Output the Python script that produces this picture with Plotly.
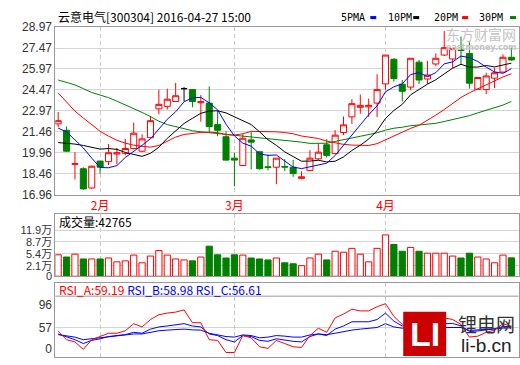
import plotly.graph_objects as go

W, H = 520, 365

# ---------------- data ----------------
idx = list(range(55))
opens = [22.03, 21.57, 19.13, 18.81, 17.43, 19.36, 19.32, 19.87, 19.91, 20.26,
         20.07, 21.04, 23.11, 23.29, 23.64, 24.56, 24.49, 23.55, 23.52, 21.98,
         21.11, 19.57, 19.04, 20.88, 20.03, 18.95, 18.92, 18.97, 18.92, 18.12,
         18.69, 19.52, 20.53, 19.91, 21.41, 22.53, 23.22, 23.25, 23.52, 24.90,
         26.67, 24.88, 24.67, 26.46, 25.25, 26.33, 26.97, 26.69, 27.35, 27.09,
         24.51, 24.49, 25.31, 25.75, 26.81]
highs = [22.88, 21.84, 20.00, 18.92, 19.04, 19.36, 20.58, 20.30, 20.95, 22.12,
         21.29, 22.60, 24.49, 24.56, 24.97, 24.67, 24.49, 24.10, 24.72, 22.99,
         21.50, 19.96, 21.29, 21.45, 20.03, 19.84, 19.57, 19.50, 19.45, 18.63,
         20.14, 20.65, 20.93, 21.57, 22.56, 23.80, 24.14, 23.84, 25.59, 26.97,
         26.74, 25.18, 26.74, 26.62, 26.55, 27.09, 28.69, 27.43, 28.30, 27.89,
         25.36, 25.70, 26.05, 27.02, 27.50]
lows = [21.80, 20.02, 18.05, 17.31, 17.36, 18.46, 19.08, 19.15, 19.77, 20.19,
        20.00, 20.99, 22.72, 23.06, 23.64, 23.64, 23.22, 22.19, 21.38, 21.15,
        19.38, 17.54, 18.99, 18.76, 18.76, 18.69, 17.70, 18.65, 18.23, 18.05,
        18.65, 19.45, 19.61, 19.84, 21.22, 22.03, 22.76, 22.53, 22.53, 24.49,
        25.06, 23.64, 24.44, 24.90, 24.90, 26.17, 26.90, 26.05, 26.33, 24.56,
        24.49, 24.17, 24.60, 25.70, 26.55]
closes = [22.26, 20.07, 19.17, 17.36, 18.99, 18.92, 19.96, 19.96, 20.26, 21.36,
          20.95, 22.26, 23.43, 23.80, 24.05, 24.56, 23.64, 23.62, 21.84, 21.57,
          19.43, 19.43, 21.00, 20.72, 18.81, 18.90, 19.57, 18.93, 18.46, 18.23,
          19.57, 20.00, 19.77, 21.22, 21.96, 23.48, 23.36, 23.36, 24.49, 26.97,
          25.29, 24.37, 26.74, 25.18, 25.54, 26.74, 27.50, 27.43, 27.30, 24.95,
          25.36, 25.47, 25.70, 26.81, 26.62]
volumes = [51350, 45120, 53130, 39780, 39780, 39780, 42450, 31770, 34440, 50460,
           29100, 47790, 63000, 50460, 39780, 37110, 34440, 45120, 75380, 51350,
           42450, 51350, 50460, 42450, 39780, 37110, 42450, 29100, 26430, 21090,
           42450, 53130, 37110, 61140, 58470, 69150, 53130, 31770, 69150, 106530,
           79830, 61140, 71820, 61140, 55800, 55800, 55800, 47790, 42450, 55800,
           45120, 39780, 29100, 50460, 42765]
ma5 = [21.73, 21.45, 20.88, 20.30, 19.57, 18.90, 18.88, 19.04, 19.62, 20.09,
       20.50, 20.96, 21.65, 22.36, 22.90, 23.62, 23.90, 23.93, 23.54, 23.04,
       22.01, 21.17, 20.65, 20.43, 19.88, 19.77, 19.80, 19.39, 18.93, 18.82,
       18.95, 19.04, 19.21, 19.76, 20.50, 21.29, 21.96, 22.68, 23.33, 24.33,
       24.69, 24.90, 25.57, 25.71, 25.42, 25.71, 26.34, 26.48, 26.90, 26.78,
       26.51, 26.10, 25.76, 25.66, 25.99]
ma10 = [20.69, 20.65, 20.58, 20.48, 20.33, 20.22, 20.26, 20.20, 19.98, 19.83,
        19.70, 19.92, 20.35, 20.99, 21.50, 22.06, 22.43, 22.79, 22.95, 22.97,
        22.82, 22.53, 22.29, 21.98, 21.46, 20.89, 20.49, 20.02, 19.68, 19.35,
        19.36, 19.42, 19.30, 19.35, 19.66, 20.12, 20.50, 20.94, 21.54, 22.42,
        22.99, 23.43, 24.12, 24.52, 24.88, 25.20, 25.62, 26.03, 26.31, 26.10,
        26.11, 26.22, 26.12, 26.28, 26.39]
ma20 = [24.25, 23.60, 22.95, 22.45, 21.95, 21.50, 21.15, 20.85, 20.65, 20.50,
        20.42, 20.36, 20.48, 20.80, 21.08, 21.27, 21.37, 21.42, 21.43, 21.40,
        21.26, 21.23, 21.32, 21.49, 21.48, 21.48, 21.46, 21.41, 21.32, 21.16,
        21.09, 20.98, 20.79, 20.66, 20.56, 20.51, 20.49, 20.48, 20.61, 20.88,
        21.18, 21.42, 21.71, 21.93, 22.27, 22.66, 23.06, 23.48, 23.93, 24.26,
        24.55, 24.82, 25.12, 25.40, 25.63]
ma30 = [25.18, 25.02, 24.83, 24.56, 24.28, 24.10, 23.91, 23.66, 23.40, 23.15,
        22.85, 22.55, 22.22, 21.98, 21.82, 21.66, 21.54, 21.46, 21.40, 21.33,
        21.26, 21.20, 21.15, 21.10, 21.05, 20.98, 20.92, 20.86, 20.79, 20.72,
        20.63, 20.62, 20.64, 20.77, 20.87, 21.02, 21.14, 21.25, 21.39, 21.58,
        21.72, 21.79, 21.90, 21.95, 22.00, 22.07, 22.20, 22.33, 22.51, 22.62,
        22.82, 23.02, 23.18, 23.38, 23.64]
rsi_a = [50.3, 35.8, 31.9, 19.0, 35.8, 41.3, 47.0, 47.0, 51.3, 63.7,
         58.0, 70.9, 79.3, 82.1, 83.8, 87.6, 65.4, 65.4, 35.8, 34.6,
         13.5, 13.5, 43.0, 39.1, 23.5, 20.7, 34.6, 29.1, 23.5, 22.4,
         43.0, 55.8, 48.6, 73.7, 80.4, 88.8, 85.9, 85.9, 93.1, 98.5,
         76.4, 62.5, 75.0, 58.0, 62.0, 72.0, 73.7, 70.9, 62.5, 40.3,
         42.0, 48.6, 52.5, 63.7, 59.19]
rsi_b = [45.8, 41.3, 35.8, 29.1, 34.6, 37.4, 41.3, 43.0, 44.6, 48.6,
         47.0, 54.2, 58.0, 59.7, 61.4, 63.7, 59.7, 58.0, 45.8, 43.0,
         35.8, 31.9, 43.0, 41.3, 34.6, 33.0, 37.4, 34.6, 33.0, 31.9,
         41.3, 45.8, 43.0, 54.2, 59.7, 67.0, 67.0, 67.0, 70.9, 82.1,
         68.0, 59.7, 64.0, 56.0, 58.0, 63.0, 63.7, 64.0, 60.0, 50.0,
         51.0, 53.0, 55.0, 58.5, 58.98]
rsi_c = [44.6, 43.0, 40.3, 35.8, 37.4, 39.1, 40.3, 41.3, 43.0, 45.8,
         45.8, 48.6, 51.3, 52.5, 52.9, 54.2, 52.9, 52.5, 47.0, 44.6,
         41.3, 40.3, 44.1, 43.0, 39.1, 40.3, 43.0, 42.0, 40.3, 40.3,
         44.1, 45.8, 44.6, 47.0, 50.3, 52.5, 54.2, 55.3, 57.0, 63.7,
         58.0, 55.8, 58.0, 55.0, 56.0, 58.0, 57.0, 57.5, 57.0, 52.0,
         52.5, 53.5, 54.5, 56.0, 56.61]

price_ticks = [16.96, 18.46, 19.96, 21.46, 22.97, 24.47, 25.97, 27.47, 28.97]
month_pos = [5, 21, 39]
month_labels = ["2月", "3月", "4月"]
VOL_FLOOR = -8280
vol_tickvals = [VOL_FLOOR, 21000, 54000, 87000, 119000]
vol_ticktext = ["0", "2.1万", "5.4万", "8.7万", "11.9万"]
rsi_tickvals = [20.7, 57, 96]
rsi_ticktext = ["0", "57", "96"]

title_text = "云意电气[300304] 2016-04-27 15:00"
vol_title = "成交量:42765"
legend_labels = ["5PMA", "10PM", "20PM", "30PM"]

RED = "#ff0000"
GREEN = "#008000"
BLUE = "#0000ff"
GRID = "#d4d4d4"
BORDER = "#999999"
NUMFONT = "Liberation Sans, Arial, Noto Sans CJK SC"
MONO = "DejaVu Sans Mono, Liberation Mono"
CJK = "Noto Sans CJK SC"


def py(p):
    return (H - p) / H


def px(p):
    return p / W


fig = go.Figure()

# moving averages
for vals, col in [(ma30, GREEN), (ma20, RED), (ma10, "#000000"), (ma5, BLUE)]:
    fig.add_trace(go.Scatter(x=idx, y=vals, mode="lines", line=dict(color=col, width=1),
                             xaxis="x", yaxis="y", hoverinfo="skip"))

up = [i for i in idx if closes[i] > opens[i]]
down = [i for i in idx if closes[i] < opens[i]]
flat = [i for i in idx if closes[i] == opens[i]]


def candle(sel, col_inc, fill_inc, col_dec, fill_dec):
    return go.Candlestick(
        x=[idx[i] for i in sel], open=[opens[i] for i in sel], high=[highs[i] for i in sel],
        low=[lows[i] for i in sel], close=[closes[i] for i in sel],
        increasing=dict(line=dict(color=col_inc, width=1), fillcolor=fill_inc),
        decreasing=dict(line=dict(color=col_dec, width=1), fillcolor=fill_dec),
        whiskerwidth=0, xaxis="x", yaxis="y", hoverinfo="skip")


fig.add_trace(candle(up, RED, "#ffffff", RED, "#ffffff"))
fig.add_trace(candle(down, GREEN, GREEN, GREEN, GREEN))
fig.add_trace(candle(flat, "#000000", "#000000", "#000000", "#000000"))

# volume
vcol_line = [GREEN if closes[i] < opens[i] else RED for i in idx]
vcol_fill = [GREEN if closes[i] < opens[i] else "#ffffff" for i in idx]
fig.add_trace(go.Bar(x=idx, y=[v - VOL_FLOOR for v in volumes], base=VOL_FLOOR, width=0.74,
                     marker=dict(color=vcol_fill, line=dict(color=vcol_line, width=1)),
                     xaxis="x2", yaxis="y2", hoverinfo="skip"))

# RSI
for vals, col in [(rsi_c, BLUE), (rsi_b, BLUE), (rsi_a, RED)]:
    fig.add_trace(go.Scatter(x=idx, y=vals, mode="lines", line=dict(color=col, width=1),
                             xaxis="x3", yaxis="y3", hoverinfo="skip"))

xdom = [px(55.5), px(519.5)]
xcommon = dict(domain=xdom, range=[-0.33, 54.85], tickvals=month_pos, showgrid=True,
               gridcolor="#c8c8c8", griddash="4px,3px", gridwidth=1, zeroline=False,
               showline=True, linecolor=BORDER, linewidth=1, mirror=True, ticks="",
               fixedrange=True)
ytick_font = dict(size=12, color="#333333", family=NUMFONT)

fig.update_layout(
    width=W, height=H, margin=dict(l=0, r=0, t=0, b=0),
    paper_bgcolor="white", plot_bgcolor="white", showlegend=False,
    boxgap=0.1, boxgroupgap=0.2, bargap=0,
    xaxis=dict(**xcommon, ticktext=month_labels, anchor="y",
               tickfont=dict(color=RED, size=12, family=CJK),
               rangeslider=dict(visible=False), ticklabelstandoff=0),
    xaxis2=dict(**xcommon, showticklabels=False, anchor="y2", matches="x"),
    xaxis3=dict(**xcommon, showticklabels=False, anchor="y3", matches="x"),
    yaxis=dict(domain=[py(195), py(21)], range=[16.96, 28.97], tickvals=price_ticks,
               ticktext=[f"{v:.2f}" for v in price_ticks], showgrid=True, gridcolor=GRID,
               zeroline=False, showline=True, linecolor=BORDER, mirror=True, ticks="",
               tickfont=ytick_font, anchor="x", fixedrange=True),
    yaxis2=dict(domain=[py(280), py(215)], range=[VOL_FLOOR, 165270], tickvals=vol_tickvals,
                ticktext=vol_ticktext, showgrid=True, gridcolor=GRID, zeroline=False,
                showline=True, linecolor=BORDER, mirror=True, ticks="",
                tickfont=dict(size=11, color="#333333", family=NUMFONT), anchor="x2",
                fixedrange=True),
    yaxis3=dict(domain=[py(364), py(287)], range=[5.64, 134.46], tickvals=rsi_tickvals,
                ticktext=rsi_ticktext, showgrid=False, zeroline=False,
                showline=True, linecolor=BORDER, mirror=True, ticks="",
                tickfont=ytick_font, anchor="x3", fixedrange=True),
)

shapes = [
    dict(type="line", xref="x3 domain", yref="y3", x0=0, x1=1, y0=57, y1=57,
         line=dict(color=GRID, width=1), layer="below"),
    dict(type="line", xref="paper", yref="paper", x0=xdom[0], x1=xdom[1], y0=py(300.7),
         y1=py(300.7), line=dict(color=BORDER, width=1)),
]
# legend colour dashes
for xa, col in [(371, BLUE), (414, "#000000"), (463, RED), (511, GREEN)]:
    shapes.append(dict(type="line", xref="paper", yref="paper", x0=px(xa), x1=px(xa + 6),
                       y0=py(11), y1=py(11), line=dict(color=col, width=3)))
# li-b logo box
shapes.append(dict(type="rect", xref="paper", yref="paper", x0=px(404), x1=px(447),
                   y0=py(363), y1=py(317), fillcolor="#cc0000", line=dict(width=0)))
fig.update_layout(shapes=shapes)

ann = [
    dict(text=title_text, x=px(56), y=py(10), xanchor="left", yanchor="middle",
         font=dict(size=12, color="#000000", family=CJK)),
    dict(text=vol_title, x=px(57), y=py(223.5), xanchor="left", yanchor="middle",
         font=dict(size=12, color="#000000", family=CJK)),
    dict(text="<span style='color:#ff0000'>RSI_A:59.19</span> "
              "<span style='color:#0000ff'>RSI_B:58.98</span> "
              "<span style='color:#0000ff'>RSI_C:56.61</span>",
         x=px(57), y=py(294), xanchor="left", yanchor="middle",
         font=dict(size=12, family=CJK)),
    dict(text="东方财富网", x=px(482), y=py(28.5), xanchor="center", yanchor="middle",
         font=dict(size=14, color="#c4c4c4", family=CJK)),
    dict(text="<b>eastmoney.com</b>", x=px(482), y=py(42), xanchor="center", yanchor="middle",
         font=dict(size=8, color="#c4c4c4", family="DejaVu Sans")),
    dict(text="<b>LI</b>", x=px(425.5), y=py(340), xanchor="center", yanchor="middle",
         font=dict(size=34, color="#ffffff", family="Liberation Sans")),
    dict(text="锂电网", x=px(487), y=py(329), xanchor="center", yanchor="middle",
         font=dict(size=19, color="#333333", family=CJK)),
    dict(text="li-b.cn", x=px(487), y=py(352), xanchor="center", yanchor="middle",
         font=dict(size=19, color="#222222", family="Liberation Sans")),
]
for lab, xa in zip(legend_labels, [340, 387, 433, 478]):
    ann.append(dict(text=lab, x=px(xa), y=py(11), xanchor="left", yanchor="middle",
                    font=dict(size=10, color="#000000", family=MONO)))
for a in ann:
    a.update(xref="paper", yref="paper", showarrow=False)
fig.update_layout(annotations=ann)

fig.write_html("out.html", config={"displayModeBar": False, "staticPlot": True},
               post_script="document.body.style.margin='0';document.body.style.overflow='hidden';")
